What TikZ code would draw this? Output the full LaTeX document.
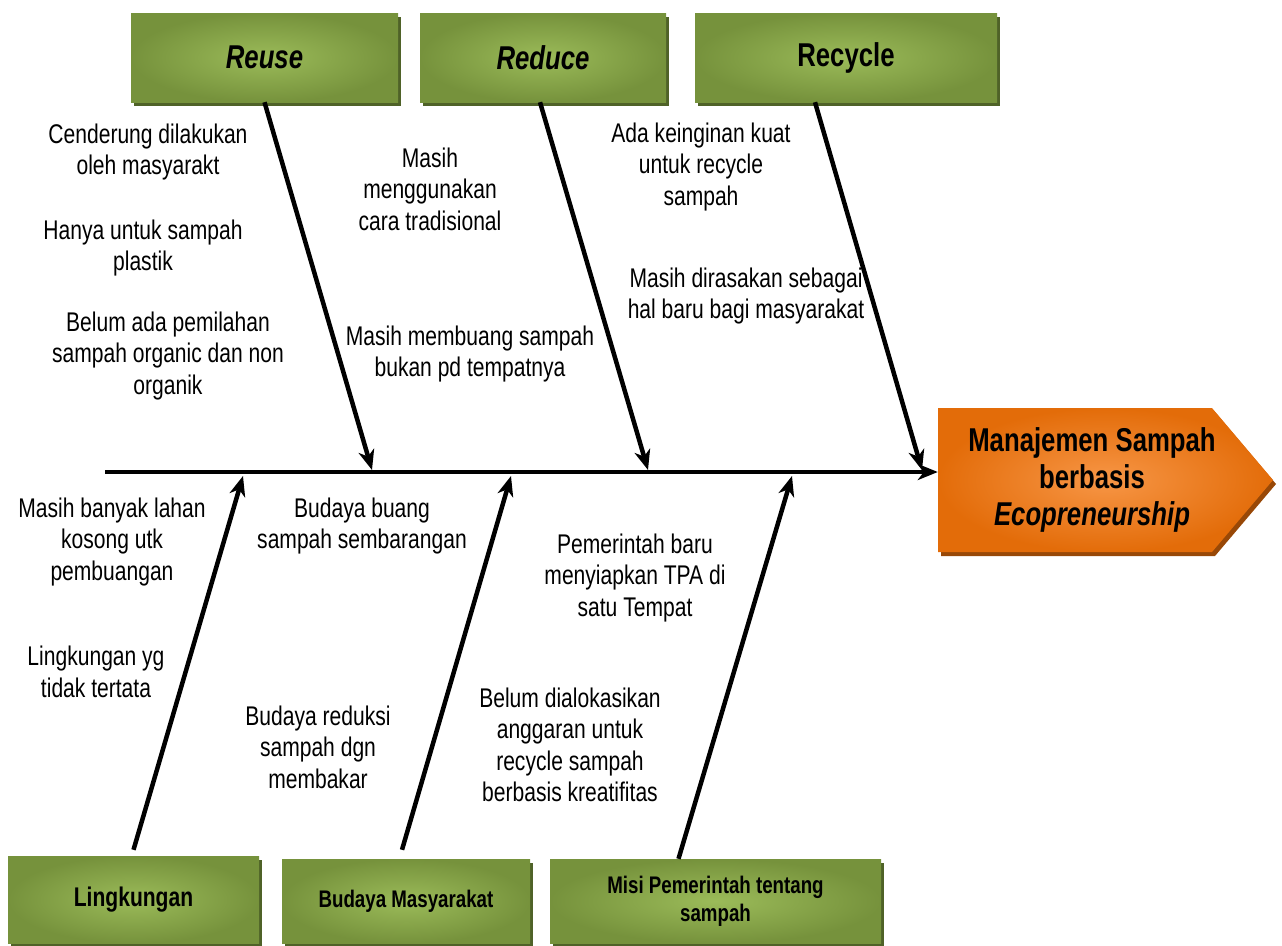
\documentclass[tikz,border=0pt]{standalone}
\usepackage{fontspec}
\setmainfont[FakeStretch=0.78]{Liberation Sans}
\usetikzlibrary{arrows.meta,shadows}

\definecolor{olivedark}{HTML}{76923C}
\definecolor{olivelight}{HTML}{9BBB59}
\definecolor{oliveshadow}{HTML}{4F6228}
\definecolor{orangedark}{HTML}{E36C09}
\definecolor{orangelight}{HTML}{F79646}
\definecolor{orangeshadow}{HTML}{984807}

\tikzset{
cause/.style={rectangle,inner sep=0pt,inner color=olivelight,outer color=olivedark,
  drop shadow={opacity=1,fill=oliveshadow,shadow xshift=3pt,shadow yshift=-4pt},
  align=center,font=\bfseries\fontsize{33}{37}\selectfont},
note/.style={align=center,inner sep=0pt,font=\fontsize{27}{31.5}\selectfont},
bone/.style={line width=4.5pt,->}
}

\begin{document}
\begin{tikzpicture}[line cap=butt,line join=miter,>={Stealth[length=20pt,width=16pt,inset=6pt]},x=1pt,y=-1pt]
\useasboundingbox (0,0) rectangle (1282,945);
% head of the fish
\fill[orangeshadow] (941,412)--(1215,412)--(1276,484)--(1215,556)--(941,556)--cycle;
\shade[inner color=orangelight,outer color=orangedark] (938,408)--(1212,408)--(1273,480)--(1212,552)--(938,552)--cycle;
\node[align=center,minimum width=308,minimum height=144,font=\bfseries\fontsize{33}{37}\selectfont] (head) at (1092,480) {Manajemen Sampah\\berbasis\\\textit{Ecopreneurship}};
% cause boxes
\node[cause,minimum width=267,minimum height=89] (reuse) at (264.5,57.5) {\itshape Reuse};
\node[cause,minimum width=246,minimum height=89] (reduce) at (543,57.5) {\itshape Reduce};
\node[cause,minimum width=302,minimum height=89] (recycle) at (846,57.5) {Recycle};
\node[cause,minimum width=251,minimum height=87,font=\bfseries\fontsize{27}{30}\selectfont] (lingkungan) at (133.5,899.5) {Lingkungan};
\node[cause,minimum width=248,minimum height=84,font=\bfseries\fontsize{24}{27}\selectfont] (budaya) at (406,901) {Budaya Masyarakat};
\node[cause,minimum width=331,minimum height=84,font=\bfseries\fontsize{24}{28}\selectfont] (misi) at (715.5,901) {Misi Pemerintah tentang\\sampah};
% notes
\node[note] (n1) at (148,152) {Cenderung dilakukan\\oleh masyarakt};
\node[note] (n2) at (143,248) {Hanya untuk sampah\\plastik};
\node[note] (n3) at (168,356) {Belum ada pemilahan\\sampah organic dan non\\organik};
\node[note] (n4) at (430,189) {Masih\\menggunakan\\cara tradisional};
\node[note] (n5) at (470,354) {Masih membuang sampah\\bukan pd tempatnya};
\node[note] (n6) at (701,167) {Ada keinginan kuat\\untuk recycle\\sampah};
\node[note] (n7) at (746,296) {Masih dirasakan sebagai\\hal baru bagi masyarakat};
\node[note] (n8) at (112,542) {Masih banyak lahan\\kosong utk\\pembuangan};
\node[note] (n9) at (96,672) {Lingkungan yg\\tidak tertata};
\node[note] (n10) at (362,526) {Budaya buang\\sampah sembarangan};
\node[note] (n11) at (318,747) {Budaya reduksi\\sampah dgn\\membakar};
\node[note] (n12) at (635,578) {Pemerintah baru\\menyiapkan TPA di\\satu Tempat};
\node[note] (n13) at (570,745) {Belum dialokasikan\\anggaran untuk\\recycle sampah\\berbasis kreatifitas};
% spine and bones
\coordinate (tail) at (105,472);
\coordinate (reuseend) at (372,470);
\coordinate (reduceend) at (648,470);
\coordinate (recycleend) at (922,470);
\coordinate (lingend) at (243,476);
\coordinate (budayaend) at (511,476);
\coordinate (misiend) at (792,476);
\draw[bone] (tail)--(tail-|head.west);
\draw[bone] (reuse.south)--(reuseend);
\draw[bone] ([xshift=-3pt]reduce.south)--(reduceend);
\draw[bone] ([xshift=-31pt]recycle.south)--(recycleend);
\draw[bone] ([yshift=6pt]lingkungan.north)--(lingend);
\draw[bone] ([xshift=-4pt,yshift=9pt]budaya.north)--(budayaend);
\draw[bone] ([xshift=-37pt]misi.north)--(misiend);
\end{tikzpicture}
\end{document}
